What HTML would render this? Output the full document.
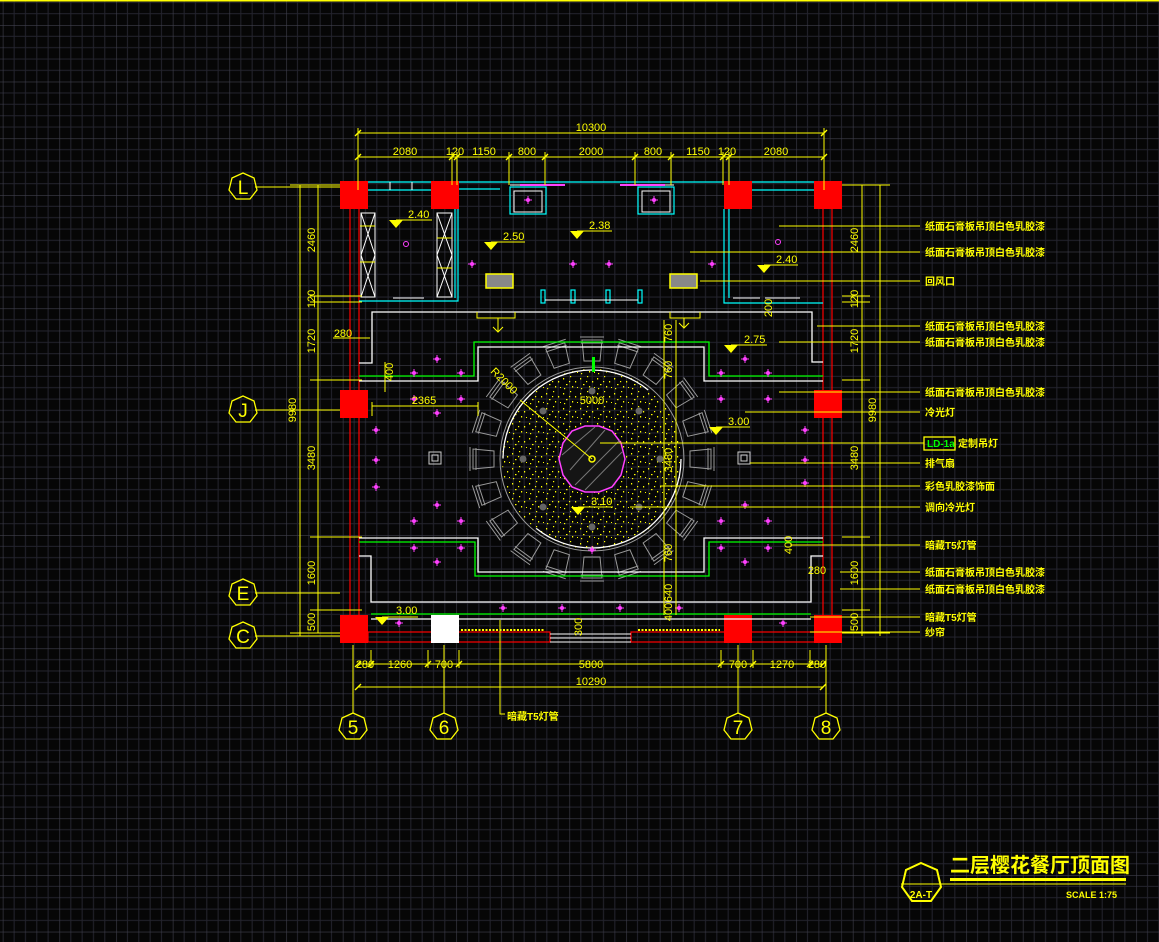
<!DOCTYPE html>
<html><head><meta charset="utf-8"><style>
html,body{margin:0;padding:0;background:#060606;}
svg{display:block}
.t{font-family:"Liberation Sans","Noto Sans CJK SC",sans-serif;fill:#ffff00;}
.c{font-family:"Liberation Sans","Noto Sans CJK SC",sans-serif;fill:#ffff00;font-weight:bold;font-size:10px;}
</style></head><body>
<svg width="1159" height="942" viewBox="0 0 1159 942" xmlns="http://www.w3.org/2000/svg">
<defs>
<pattern id="g" x="2.8" y="25" width="56.67" height="56.67" patternUnits="userSpaceOnUse">
<path d="M11.33 0V56.67M22.67 0V56.67M34 0V56.67M45.33 0V56.67M0 11.33H56.67M0 22.67H56.67M0 34H56.67M0 45.33H56.67" stroke="#24242e" stroke-width="1"/>
<path d="M0 0V56.67M0 0H56.67" stroke="#40404c" stroke-width="1.2"/>
</pattern>
<pattern id="sp" width="17" height="15" patternUnits="userSpaceOnUse">
<g fill="#ffff00"><rect x="2" y="3" width="1.2" height="1.5"/><rect x="9" y="1" width="1.2" height="1.2"/><rect x="14" y="6" width="1.2" height="1.5"/><rect x="5" y="9" width="1.5" height="1.2"/><rect x="11" y="11" width="1.2" height="1.5"/><rect x="16" y="12" width="1" height="1"/><rect x="3" y="13" width="1.2" height="1.2"/><rect x="8" y="6" width="1.2" height="1.2"/></g>
</pattern>
<g id="lt"><path d="M-4 0H4M0 -4V4" stroke="#ff40ff" stroke-width="1"/><circle r="2" fill="#ff40ff"/></g>
<g id="ch"><path d="M-10 -119 L10 -119 L8 -98 L-8 -98 Z" fill="none" stroke="#9a9a9a" stroke-width="1"/><path d="M-12 -122 L12 -122 M-11 -116 L11 -116" stroke="#9a9a9a"/></g>
</defs>
<rect width="1159" height="942" fill="#060606"/>
<rect width="1159" height="942" fill="url(#g)"/>
<rect x="0" y="0" width="1159" height="1.5" fill="#ffff00"/>

<!-- circle feature -->
<g>
<circle cx="592" cy="459" r="90" fill="url(#sp)"/>
<circle cx="592" cy="459" r="92" fill="none" stroke="#9a9a9a"/>
<circle cx="592" cy="459" r="89" fill="none" stroke="#ffffff" stroke-width="1.3" stroke-dasharray="200 80"/>
<g transform="translate(592 459)">
<use href="#ch" transform="rotate(0)"/><use href="#ch" transform="rotate(18)"/><use href="#ch" transform="rotate(36)"/><use href="#ch" transform="rotate(54)"/><use href="#ch" transform="rotate(72)"/><use href="#ch" transform="rotate(90)"/><use href="#ch" transform="rotate(108)"/><use href="#ch" transform="rotate(126)"/><use href="#ch" transform="rotate(144)"/><use href="#ch" transform="rotate(162)"/><use href="#ch" transform="rotate(180)"/><use href="#ch" transform="rotate(198)"/><use href="#ch" transform="rotate(216)"/><use href="#ch" transform="rotate(234)"/><use href="#ch" transform="rotate(252)"/><use href="#ch" transform="rotate(270)"/><use href="#ch" transform="rotate(288)"/><use href="#ch" transform="rotate(306)"/><use href="#ch" transform="rotate(324)"/><use href="#ch" transform="rotate(342)"/>
</g>
<polygon points="625,459 621,475 612,487 599,492 585,492 572,487 563,475 559,459 563,443 572,431 585,426 599,426 612,431 621,443" fill="#151515" stroke="#ff40ff" stroke-width="1.5"/>
<path d="M570 470L605 430M575 485L620 440M585 490L622 452M562 455L595 427" stroke="#777" stroke-width="1"/>
<circle cx="592" cy="459" r="3" fill="none" stroke="#ffff00" stroke-width="1.5"/>
<path d="M592 459L520 400" stroke="#ffff00"/>
<rect x="592" y="357" width="3" height="15" fill="#00ff00"/>
<g fill="#666"><circle cx="592" cy="391" r="3.5"/><circle cx="543" cy="411" r="3.5"/><circle cx="639" cy="411" r="3.5"/><circle cx="523" cy="459" r="3.5"/><circle cx="660" cy="459" r="3.5"/><circle cx="543" cy="507" r="3.5"/><circle cx="639" cy="507" r="3.5"/><circle cx="592" cy="527" r="3.5"/></g>
<text class="t" x="490" y="372" font-size="11" transform="rotate(45 490 372)">R2000</text>
</g>

<!-- walls -->
<g stroke="#ff0000" stroke-width="1.2" fill="none">
<path d="M350 195V640M359 195V640M823 195V640M832 195V640"/>
<rect x="368" y="632" width="182" height="10"/><rect x="631" y="632" width="184" height="10"/>
</g>
<g stroke="#ffffff" stroke-width="1" fill="none"><path d="M550 634H631M550 638H631M550 642H631"/></g>
<g fill="#ff0000">
<rect x="340" y="181" width="28" height="28"/><rect x="431" y="181" width="28" height="28"/><rect x="724" y="181" width="28" height="28"/><rect x="814" y="181" width="28" height="28"/>
<rect x="340" y="390" width="28" height="28"/><rect x="814" y="390" width="28" height="28"/>
<rect x="340" y="615" width="28" height="28"/><rect x="724" y="615" width="28" height="28"/><rect x="814" y="615" width="28" height="28"/>
</g>
<rect x="431" y="615" width="28" height="28" fill="#ffffff"/>

<!-- top cyan/white walls -->
<g stroke="#00ffff" stroke-width="1.2" fill="none">
<path d="M368 182H431M368 190H431M459 182H724M459 189H500M752 182H814M752 190H814"/>
<path d="M359 301H458V209M455 298V209M724 209V303H823M729 209V298"/>
<rect x="510" y="187" width="36" height="27"/><rect x="638" y="187" width="36" height="27"/>
<rect x="541" y="290" width="4" height="13"/><rect x="571" y="290" width="4" height="13"/><rect x="606" y="290" width="4" height="13"/><rect x="638" y="290" width="4" height="13"/>
</g>
<g stroke="#ffffff" stroke-width="1" fill="none">
<path d="M390 182V190M412 182V190M393 298H424M733 298H760M765 298H800"/>
<rect x="514" y="191" width="28" height="21"/><rect x="642" y="191" width="28" height="21"/>
<path d="M545 300H638M510 185H546M638 185H674"/>
<path d="M361 213H375V297H361ZM361 213L375 255L361 297M375 213L361 255L375 297M437 213H452V297H437ZM437 213L452 255L437 297M452 213L437 255L452 297"/>
</g>
<g stroke="#ffff00" stroke-width="1"><path d="M360 226H375M360 262H375M437 238H452M437 268H452"/></g>
<path d="M520 185H565M620 185H665" stroke="#ff40ff" stroke-width="2"/>

<!-- ceiling outlines -->
<g stroke="#ffffff" stroke-width="1.3" fill="none">
<path d="M359 363H372V312H812V362H823"/>
<path d="M359 381H478V347H704V381H823"/>
<path d="M359 538H478V572H704V538H823"/>
<path d="M359 556H371V602H811V556H823"/>
<path d="M371 619H811"/>
</g>
<g stroke="#00ff00" stroke-width="1.3" fill="none">
<path d="M359 376H474V342H709V376H823"/>
<path d="M359 542H475V576H709V542H823"/>
<path d="M371 614H811"/>
</g>
<g stroke="#ffff00" stroke-width="1" fill="none"><path d="M477 312V318H515V312M498 318V332M493 327L498 332L503 327M670 312V318H700V312M684 318V328M679 323L684 328L689 323"/></g>
<g stroke="#ffff00" stroke-width="2" stroke-dasharray="2 1.5"><path d="M461 630H545M638 630H720"/></g>

<!-- vents & fans -->
<rect x="486" y="274" width="27" height="14" fill="#888" stroke="#ffff00" stroke-width="1.5"/>
<rect x="670" y="274" width="27" height="14" fill="#888" stroke="#ffff00" stroke-width="1.5"/>
<g fill="none" stroke="#ccc"><rect x="429" y="452" width="12" height="12"/><rect x="432" y="455" width="6" height="6"/><rect x="738" y="452" width="12" height="12"/><rect x="741" y="455" width="6" height="6"/></g>

<!-- lights -->
<g>
<use href="#lt" x="528" y="200"/><use href="#lt" x="654" y="200"/>
<use href="#lt" x="472" y="264"/><use href="#lt" x="573" y="264"/><use href="#lt" x="609" y="264"/><use href="#lt" x="712" y="264"/>
<use href="#lt" x="437" y="359"/><use href="#lt" x="414" y="373"/><use href="#lt" x="461" y="373"/><use href="#lt" x="414" y="399"/><use href="#lt" x="461" y="399"/><use href="#lt" x="437" y="413"/><use href="#lt" x="376" y="430"/><use href="#lt" x="376" y="460"/><use href="#lt" x="376" y="487"/>
<use href="#lt" x="745" y="359"/><use href="#lt" x="721" y="373"/><use href="#lt" x="768" y="373"/><use href="#lt" x="721" y="399"/><use href="#lt" x="768" y="399"/><use href="#lt" x="805" y="430"/><use href="#lt" x="805" y="460"/><use href="#lt" x="805" y="483"/>
<use href="#lt" x="437" y="505"/><use href="#lt" x="414" y="521"/><use href="#lt" x="461" y="521"/><use href="#lt" x="414" y="548"/><use href="#lt" x="461" y="548"/><use href="#lt" x="437" y="562"/>
<use href="#lt" x="745" y="505"/><use href="#lt" x="721" y="521"/><use href="#lt" x="768" y="521"/><use href="#lt" x="721" y="548"/><use href="#lt" x="768" y="548"/><use href="#lt" x="745" y="562"/>
<use href="#lt" x="503" y="608"/><use href="#lt" x="562" y="608"/><use href="#lt" x="620" y="608"/><use href="#lt" x="679" y="608"/><use href="#lt" x="399" y="623"/><use href="#lt" x="783" y="623"/>
<use href="#lt" x="592" y="550"/>
</g>
<g fill="none" stroke="#ff40ff"><circle cx="406" cy="244" r="2.5"/><circle cx="778" cy="242" r="2.5"/></g>

<!-- level markers -->
<g fill="#ffff00">
<path d="M389 220H403L396 228Z"/><path d="M484 242H498L491 250Z"/><path d="M570 231H584L577 239Z"/><path d="M757 265H771L764 273Z"/><path d="M724 345H738L731 353Z"/><path d="M709 427H723L716 435Z"/><path d="M571 507H585L578 515Z"/><path d="M375 617H389L382 625Z"/>
</g>
<g stroke="#ffff00"><path d="M396 220H432M491 242H525M577 231H612M764 265H798M731 345H767M716 427H750M578 507H613M382 617H418"/></g>
<g class="t" font-size="11">
<text x="408" y="218">2.40</text><text x="503" y="240">2.50</text><text x="589" y="229">2.38</text><text x="776" y="263">2.40</text><text x="744" y="343">2.75</text><text x="728" y="425">3.00</text><text x="591" y="505">3.10</text><text x="396" y="614">3.00</text>
</g>

<!-- dimensions -->
<g stroke="#ffff00" stroke-width="1" fill="none">
<path d="M358 133H824M358 157H824M358 128V190M824 128V190"/>
<path d="M452 152V185M457 152V185M509 152V185M545 152V185M635 152V185M671 152V185M723 152V185M729 152V185"/>
<path d="M300 185V636M318 185V633M290 185H340M310 296H362M310 302H362M310 380H362M310 537H362M310 610H362M290 633H340"/>
<path d="M862 185V636M880 185V636M842 185H890M842 296H870M842 302H870M842 380H870M842 537H870M842 610H870M842 633H890"/>
<path d="M358 664H823M358 687H823M353 645V713M371 650V668M428 650V668M459 650V668M721 650V668M753 650V668M810 650V668M826 645V713M444 645V713M738 645V713"/>
<path d="M255 187H340M255 410H340M255 593H340M255 636H340"/>
<path d="M372 406H478M664 320V615M676 320V615M500 620V714H505M372 402V416M478 402V416"/>
<path d="M333 338H370M385 362V392"/>
</g>
<g stroke="#ffff00" stroke-width="1.4"><path d="M355 136l6-6M821 136l6-6M355 160l6-6M449 160l6-6M454 160l6-6M506 160l6-6M542 160l6-6M632 160l6-6M668 160l6-6M720 160l6-6M726 160l6-6M821 160l6-6M355 667l6-6M368 667l6-6M425 667l6-6M456 667l6-6M718 667l6-6M750 667l6-6M807 667l6-6M820 667l6-6M355 690l6-6M820 690l6-6"/></g>
<g class="t" font-size="11" text-anchor="middle">
<text x="591" y="131">10300</text>
<text x="405" y="155">2080</text><text x="455" y="155">120</text><text x="484" y="155">1150</text><text x="527" y="155">800</text><text x="591" y="155">2000</text><text x="653" y="155">800</text><text x="698" y="155">1150</text><text x="727" y="155">120</text><text x="776" y="155">2080</text>
<text x="365" y="668">280</text><text x="400" y="668">1260</text><text x="444" y="668">700</text><text x="591" y="668">5800</text><text x="738" y="668">700</text><text x="782" y="668">1270</text><text x="817" y="668">280</text>
<text x="591" y="685">10290</text>
<text x="343" y="337">280</text><text x="424" y="404">2365</text><text x="592" y="404">5000</text><text x="817" y="574">280</text>
</g>
<g class="t" font-size="11" text-anchor="middle">
<text transform="translate(296 410) rotate(-90)">9980</text>
<text transform="translate(315 240) rotate(-90)">2460</text><text transform="translate(315 299) rotate(-90)">120</text><text transform="translate(315 341) rotate(-90)">1720</text><text transform="translate(315 458) rotate(-90)">3480</text><text transform="translate(315 573) rotate(-90)">1600</text><text transform="translate(315 622) rotate(-90)">500</text>
<text transform="translate(876 410) rotate(-90)">9980</text>
<text transform="translate(858 240) rotate(-90)">2460</text><text transform="translate(858 299) rotate(-90)">120</text><text transform="translate(858 341) rotate(-90)">1720</text><text transform="translate(858 458) rotate(-90)">3480</text><text transform="translate(858 573) rotate(-90)">1600</text><text transform="translate(858 622) rotate(-90)">500</text>
<text transform="translate(672 333) rotate(-90)">760</text><text transform="translate(672 370) rotate(-90)">760</text><text transform="translate(672 460) rotate(-90)">3480</text><text transform="translate(672 553) rotate(-90)">760</text><text transform="translate(672 593) rotate(-90)">640</text><text transform="translate(672 612) rotate(-90)">400</text>
<text transform="translate(393 372) rotate(-90)">400</text><text transform="translate(772 308) rotate(-90)">200</text><text transform="translate(792 545) rotate(-90)">400</text><text transform="translate(582 627) rotate(-90)">300</text>
</g>

<!-- axis bubbles -->
<g fill="none" stroke="#ffff00" stroke-width="1.3">
<polygon points="243,173 254,178 257,190 250,199 236,199 229,190 232,178"/>
<polygon points="243,396 254,401 257,413 250,422 236,422 229,413 232,401"/>
<polygon points="243,579 254,584 257,596 250,605 236,605 229,596 232,584"/>
<polygon points="243,622 254,627 257,639 250,648 236,648 229,639 232,627"/>
<polygon points="353,713 364,718 367,730 360,739 346,739 339,730 342,718"/>
<polygon points="444,713 455,718 458,730 451,739 437,739 430,730 433,718"/>
<polygon points="738,713 749,718 752,730 745,739 731,739 724,730 727,718"/>
<polygon points="826,713 837,718 840,730 833,739 819,739 812,730 815,718"/>
</g>
<g class="t" font-size="19" text-anchor="middle">
<text x="243" y="194">L</text><text x="243" y="417">J</text><text x="243" y="600">E</text><text x="243" y="643">C</text>
<text x="353" y="734">5</text><text x="444" y="734">6</text><text x="738" y="734">7</text><text x="826" y="734">8</text>
</g>

<!-- annotations -->
<g stroke="#ffff00" stroke-width="1">
<path d="M779 226H920M690 252H920M700 281H920M817 326H920M779 342H920M779 392H920M745 412H920M600 443H924M750 463H920M660 486H920M630 507H920M790 545H920M840 572H920M840 589H920M810 617H920M810 632H920"/>
</g>
<g class="c">
<text x="925" y="230">纸面石膏板吊顶白色乳胶漆</text>
<text x="925" y="256">纸面石膏板吊顶白色乳胶漆</text>
<text x="925" y="285">回风口</text>
<text x="925" y="330">纸面石膏板吊顶白色乳胶漆</text>
<text x="925" y="346">纸面石膏板吊顶白色乳胶漆</text>
<text x="925" y="396">纸面石膏板吊顶白色乳胶漆</text>
<text x="925" y="416">冷光灯</text>
<text x="958" y="447">定制吊灯</text>
<text x="925" y="467">排气扇</text>
<text x="925" y="490">彩色乳胶漆饰面</text>
<text x="925" y="511">调向冷光灯</text>
<text x="925" y="549">暗藏T5灯管</text>
<text x="925" y="576">纸面石膏板吊顶白色乳胶漆</text>
<text x="925" y="593">纸面石膏板吊顶白色乳胶漆</text>
<text x="925" y="621">暗藏T5灯管</text>
<text x="925" y="636">纱帘</text>
<text x="507" y="720">暗藏T5灯管</text>
</g>
<rect x="924" y="437" width="31" height="13" fill="none" stroke="#ffff00" stroke-width="1.3"/>
<text x="927" y="447" font-family="Liberation Sans,sans-serif" font-size="10" font-weight="bold" fill="#00ff00">LD-1a</text>

<!-- title block -->
<polygon points="921,863 937,870 941,887 931,901 912,901 902,887 906,870" fill="none" stroke="#ffff00" stroke-width="2"/>
<path d="M901 884H1126" stroke="#ffff00" stroke-width="1"/>
<rect x="950" y="878" width="176" height="3" fill="#ffff00"/>
<text x="921" y="898" text-anchor="middle" class="t" font-size="10" font-weight="bold">2A-T</text>
<text x="950" y="872" class="t" font-size="20" font-weight="bold" font-family="'Noto Sans CJK SC',sans-serif">二层樱花餐厅顶面图</text>
<text x="1066" y="898" class="t" font-size="9" font-weight="bold">SCALE  1:75</text>
</svg>
</body></html>
